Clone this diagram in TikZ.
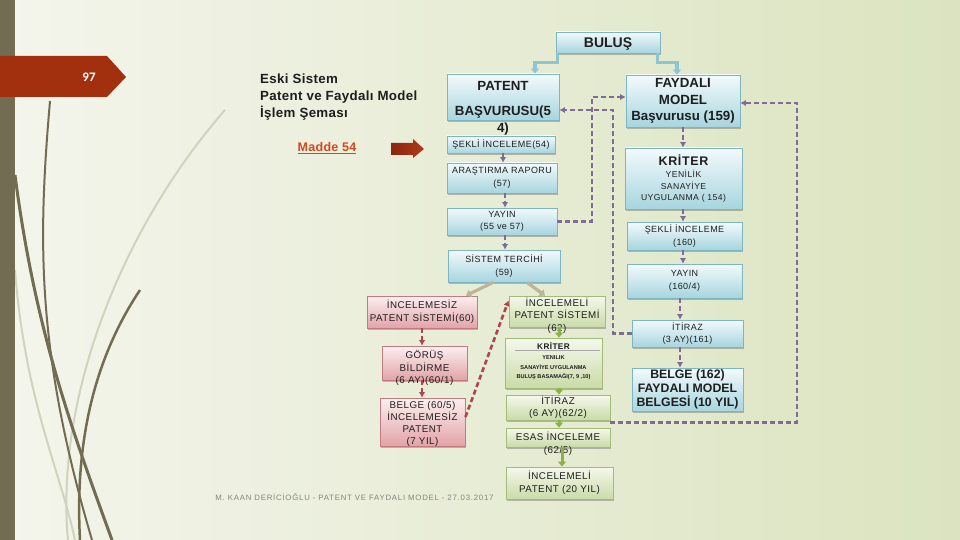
\documentclass[tikz,border=0pt]{standalone}
\usepackage{fontspec}
\setmainfont{Liberation Sans}
\newfontfamily\numfont{Carlito}
\newfontfamily\trk[LetterSpace=5]{Liberation Sans}
\newfontfamily\trkt[LetterSpace=2.5]{Liberation Sans}
\newfontfamily\trkf[LetterSpace=10]{Liberation Sans}
\usetikzlibrary{arrows.meta,shadows}
\definecolor{cBgL}{HTML}{F4F5EC}
\definecolor{cBgR}{HTML}{DBE4BF}
\definecolor{cOlive}{HTML}{726D52}
\definecolor{cOliveL}{HTML}{D0D3BE}
\definecolor{cBanner}{HTML}{A2300F}
\definecolor{cMadde}{HTML}{D5471F}
\definecolor{cArrL}{HTML}{8A2611}
\definecolor{cArrR}{HTML}{B23A1A}
\definecolor{cBlueT}{HTML}{F3FAFC}
\definecolor{cBlueB}{HTML}{A7D5DF}
\definecolor{cBlueD}{HTML}{7DB5C2}
\definecolor{cPinkT}{HTML}{FBF0F0}
\definecolor{cPinkB}{HTML}{E2A3A8}
\definecolor{cPinkD}{HTML}{C27A80}
\definecolor{cGreenT}{HTML}{F5F8EC}
\definecolor{cGreenB}{HTML}{CADBA8}
\definecolor{cGreenD}{HTML}{A2BB78}
\definecolor{cPurp}{HTML}{7E6B96}
\definecolor{cRedD}{HTML}{B0434E}
\definecolor{cTeal}{HTML}{8CC6D1}
\definecolor{cGrn}{HTML}{8CB04A}
\definecolor{cTan}{HTML}{BDB597}
\definecolor{cTxt}{HTML}{1E1E1E}
\definecolor{cFoot}{HTML}{85857A}
\begin{document}
\begin{tikzpicture}[x=1pt,y=-1pt,
  box/.style={rectangle, inner sep=0pt, align=center, line width=0.9pt, text=cTxt,
    drop shadow={shadow xshift=1.2pt, shadow yshift=-1.6pt, opacity=0.35, fill=black!70}},
  bluebox/.style={box, draw=cBlueD, top color=cBlueT, bottom color=cBlueB},
  pinkbox/.style={box, draw=cPinkD, top color=cPinkT, bottom color=cPinkB},
  greenbox/.style={box, draw=cGreenD, top color=cGreenT, bottom color=cGreenB},
  sm/.style={font=\trk\fontsize{9}{12.5}\selectfont},
  md/.style={font=\trk\fontsize{9.8}{12.5}\selectfont},
  bigb/.style={font=\bfseries\fontsize{13.3}{16.5}\selectfont},
  txtnode/.style={inner sep=0pt, align=center, text=cTxt},
  pdash/.style={draw=cPurp, line width=2.6pt, dash pattern=on 5pt off 3pt, -{Latex[length=5.5pt,width=6.5pt]}},
  rdash/.style={draw=cRedD, line width=2.6pt, dash pattern=on 5pt off 3pt, -{Latex[length=5.5pt,width=6.5pt]}},
  tealc/.style={draw=cTeal, line width=3.2pt, -{Triangle[length=5pt,width=8pt]}},
  grnc/.style={draw=cGrn, line width=3pt, -{Triangle[length=5pt,width=8pt]}},
  tanc/.style={draw=cTan, line width=3.2pt, -{Triangle[length=5pt,width=8pt]}},
]
\useasboundingbox (0,0) rectangle (960,540);
\shade[left color=cBgL, right color=cBgR] (0,0) rectangle (960,540);

% decorative curves
\draw[cOliveL, line width=2pt] (225,110) .. controls (120,230) and (55,400) .. (68,540);
\draw[cOliveL, line width=2pt] (15,270) .. controls (25,400) and (60,470) .. (75,540);
\draw[cOlive, line width=2pt] (50,101) .. controls (38,240) and (36,350) .. (92,540);
\draw[cOlive, line width=3pt] (15,175) .. controls (35,330) and (72,430) .. (112,540);
\draw[cOlive, line width=2.5pt] (140,290) .. controls (100,350) and (74,430) .. (80,540);
\fill[cOlive] (0,0) rectangle (15,540);

% banner
\fill[cBanner] (0,56) -- (107,56) -- (126,77) -- (107,97) -- (0,97) -- cycle;
\node[text=white, font=\numfont\bfseries\fontsize{13}{15}\selectfont, inner sep=0pt] (pg) at (89,77) {97};

% title
\node[anchor=north west, align=left, inner sep=0pt, text=cTxt,
  font=\trkt\bfseries\fontsize{13.3}{17}\selectfont] (title) at (260,73.5)
  {Eski Sistem\\Patent ve Faydalı Model\\İşlem Şeması};
\node[text=cMadde, inner sep=0pt, font=\trkt\bfseries\fontsize{12.5}{14}\selectfont] (madde) at (327,148) {\underline{Madde 54}};
\shade[left color=cArrL, right color=cArrR] (391,143) -- (413,143) -- (413,139) -- (424,149) -- (413,158) -- (413,155) -- (391,155) -- cycle;

% blue boxes
\node[bluebox, minimum width=104pt, minimum height=21pt, text depth=0.5pt, font=\bfseries\fontsize{14}{16}\selectfont] (bulus) at (608,42.5) {BULUŞ};
\node[bluebox, minimum width=112pt, minimum height=46pt] (pb) at (503,97) {};
\node[bluebox, minimum width=108pt, minimum height=17pt, sm] (sek54) at (501,144.5) {ŞEKLİ İNCELEME(54)};
\node[bluebox, minimum width=110pt, minimum height=30pt, sm] (ara) at (502,178) {ARAŞTIRMA RAPORU\\(57)};
\node[bluebox, minimum width=110pt, minimum height=27pt, sm] (yay) at (502,221.5) {YAYIN\\(55 ve 57)};
\node[bluebox, minimum width=112pt, minimum height=32pt, sm] (sis) at (504,266) {SİSTEM TERCİHİ\\(59)};

\node[bluebox, minimum width=114pt, minimum height=52pt, bigb] (fm) at (683,101) {FAYDALI\\MODEL\\Başvurusu (159)};
\node[bluebox, minimum width=117pt, minimum height=61pt, font=\trk\fontsize{8.6}{11.5}\selectfont] (kr) at (683.5,178.5)
  {{\bfseries\fontsize{12.5}{14}\selectfont KRİTER}\\[1pt]YENİLİK\\SANAYİYE\\UYGULANMA ( 154)};
\node[bluebox, minimum width=115pt, minimum height=28pt, sm] (sek160) at (684.5,236) {ŞEKLİ İNCELEME\\(160)};
\node[bluebox, minimum width=115pt, minimum height=34pt, sm] (yay160) at (684.5,281) {YAYIN\\(160/4)};
\node[bluebox, minimum width=111pt, minimum height=27pt, sm] (it161) at (687.5,333.5) {İTİRAZ\\(3 AY)(161)};
\node[bluebox, minimum width=111pt, minimum height=43pt, font=\bfseries\fontsize{12.3}{13.8}\selectfont] (belge) at (687.5,389.5) {BELGE (162)\\FAYDALI MODEL\\BELGESİ (10 YIL)};

% pink boxes
\node[pinkbox, minimum width=110pt, minimum height=32pt, md] (inz) at (422,312) {İNCELEMESİZ\\PATENT SİSTEMİ(60)};
\node[pinkbox, minimum width=85pt, minimum height=34pt] (gor) at (424.5,363) {};
\node[pinkbox, minimum width=85pt, minimum height=48pt] (bel605) at (422.5,422) {};

% green boxes
\node[greenbox, minimum width=96pt, minimum height=31pt] (ing) at (557,311.5) {};
\node[greenbox, minimum width=97pt, minimum height=50pt] (krg) at (553.5,363) {};
\node[greenbox, minimum width=104pt, minimum height=25pt, md] (it62) at (558,407.5) {İTİRAZ\\(6 AY)(62/2)};
\node[greenbox, minimum width=104pt, minimum height=19pt] (esas) at (558,437.5) {};
\node[greenbox, minimum width=107pt, minimum height=32pt, md] (ip20) at (559.5,483) {İNCELEMELİ\\PATENT (20 YIL)};

% texts placed on their own
\node[txtnode, anchor=north, font=\bfseries\fontsize{13.3}{17}\selectfont] (pbt) at (503,81.3) {PATENT\\[8pt]BAŞVURUSU(5\\4)};
\node[txtnode, md] (gort) at (424.5,368) {GÖRÜŞ\\BİLDİRME\\(6 AY)(60/1)};
\node[txtnode, font=\trk\fontsize{9.8}{12}\selectfont] (belt) at (422.5,424) {BELGE (60/5)\\İNCELEMESİZ\\PATENT\\(7 YIL)};
\node[txtnode, md] (ingt) at (557,315.5) {İNCELEMELİ\\PATENT SİSTEMİ\\(62)};
\node[txtnode, md] (esast) at (558,444) {ESAS İNCELEME\\(62/5)};
\node[txtnode, font=\bfseries\fontsize{5.6}{9.5}\selectfont] (krgt) at (553.5,361)
  {{\trk\fontsize{8.2}{9}\selectfont KRİTER}\\[1pt]YENILIK\\SANAYİYE UYGULANMA\\BULUŞ BASAMAĞI(7, 9 ,10)};
\draw[black!35, line width=1.2pt] (515,350.5) -- (600,350.5);

% footer
\node[inner sep=0pt, text=cFoot, font=\trkf\fontsize{7.8}{9}\selectfont] (foot) at (354.5,497) {M. KAAN DERİCİOĞLU - PATENT VE FAYDALI MODEL - 27.03.2017};

% helper coordinates
\coordinate (xa) at (503,0);
\coordinate (xa2) at (505,0);
\coordinate (xb) at (592,0);
\coordinate (xc) at (613,0);
\coordinate (xd) at (797,0);
\coordinate (xe) at (683,0);
\coordinate (xf) at (680,0);
\coordinate (xg) at (559,0);
\coordinate (xi) at (562,0);
\coordinate (xh) at (422,0);
\coordinate (fmw) at ([yshift=4pt]fm.west);
\coordinate (fme) at ([yshift=-2pt]fm.east);
\coordinate (pbe) at ([yshift=-13pt]pb.east);
\coordinate (it62e) at ([yshift=-2pt]it62.south east);

% teal
\draw[tealc] ([xshift=2pt]bulus.south west) -- ++(0,9) -| ([xshift=32pt]pb.north);
\draw[tealc] ([xshift=-3pt]bulus.south east) -- ++(0,9) -| ([xshift=-6pt]fm.north);

% purple dashed
\draw[pdash] (xa |- sek54.south) -- (xa |- ara.north);
\draw[pdash] (xa2 |- ara.south) -- (xa2 |- yay.north);
\draw[pdash] (xa2 |- yay.south) -- (xa2 |- sis.north);
\draw[pdash] (yay.east) -| (xb |- fmw) -- (fmw);
\draw[pdash] (it161.west) -| (xc |- pbe) -- (pbe);
\draw[pdash] (it62e) -| (xd |- fme) -- (fme);
\draw[pdash] (xe |- fm.south) -- (xe |- kr.north);
\draw[pdash] (xe |- kr.south) -- (xe |- sek160.north);
\draw[pdash] (xe |- sek160.south) -- (xe |- yay160.north);
\draw[pdash] (xf |- yay160.south) -- (xf |- it161.north);
\draw[pdash] (xf |- it161.south) -- (xf |- belge.north);

% red dashed
\draw[rdash] (xh |- inz.south) -- (xh |- gor.north);
\draw[rdash] (xh |- gor.south) -- (xh |- bel605.north);
\draw[rdash] ([yshift=5pt]bel605.east) -- ([yshift=11pt]ing.west);

% tan
\draw[tanc] ([xshift=-11pt]sis.south) -- ([xshift=44pt]inz.north);
\draw[tanc] ([xshift=23pt]sis.south) -- ([xshift=-12pt]ing.north);

% green
\draw[grnc] (xg |- ing.south) -- (xg |- krg.north);
\draw[grnc] (xg |- krg.south) -- (xg |- it62.north);
\draw[grnc] (xg |- it62.south) -- (xg |- esas.north);
\draw[grnc] (xi |- esas.south) -- (xi |- ip20.north);
\end{tikzpicture}
\end{document}
